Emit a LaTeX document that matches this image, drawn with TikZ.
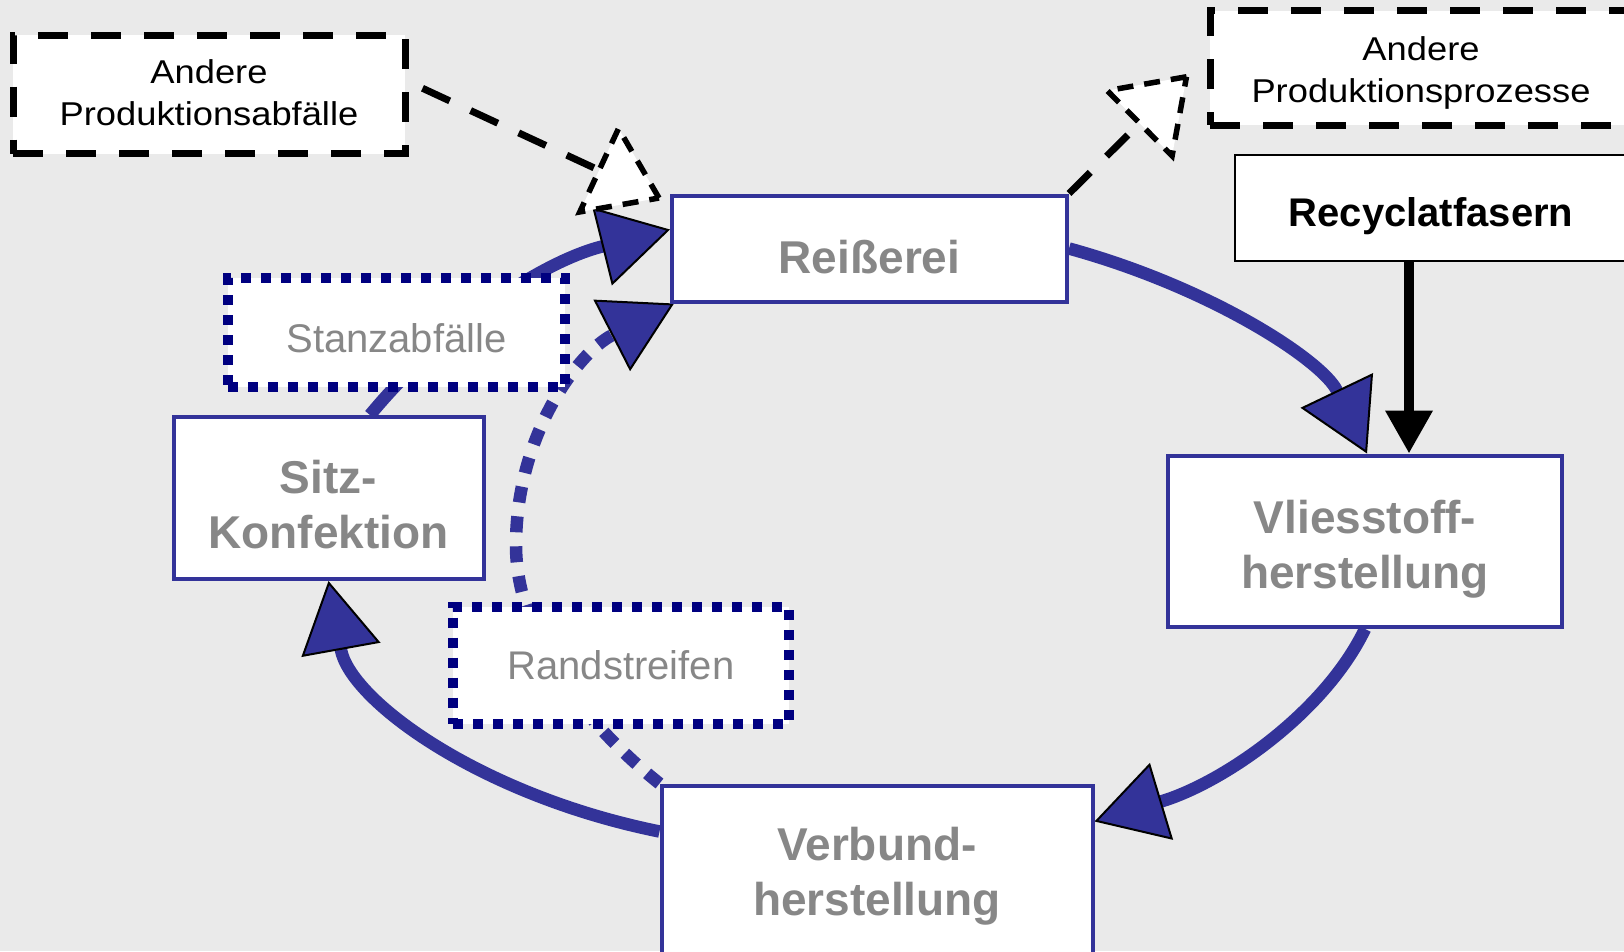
\documentclass[tikz,border=0pt]{standalone}
\usepackage{fontspec}
\setmainfont{Liberation Sans}
\newfontfamily\stretchfam{Liberation Sans}[FakeStretch=1.1]
\usetikzlibrary{arrows.meta,calc}
\definecolor{bgc}{HTML}{EAEAEA}
\definecolor{cblue}{HTML}{333399}
\definecolor{cnavy}{HTML}{000080}
\definecolor{tgray}{HTML}{878787}
\pgfdeclarelayer{bglayer}
\pgfdeclarelayer{connlayer}
\pgfsetlayers{bglayer,connlayer,main}
\pgfdeclarearrow{
  name = DTri,
  parameters = {\the\pgfarrowlength,\the\pgfarrowwidth},
  setup code = {
    \pgfarrowssettipend{0pt}
    \pgfarrowssetlineend{-0.9\pgfarrowlength}
    \pgfarrowssetbackend{-\pgfarrowlength}
    \pgfarrowssavethe\pgfarrowlength
    \pgfarrowssavethe\pgfarrowwidth
  },
  drawing code = {
    \pgfsetdash{{16pt}{11pt}}{0pt}
    \pgfsetlinewidth{5.5pt}
    \pgfsetmiterjoin
    \pgfsetbuttcap
    \pgfpathmoveto{\pgfqpoint{0pt}{0pt}}
    \pgfpathlineto{\pgfqpoint{-\pgfarrowlength}{0.5\pgfarrowwidth}}
    \pgfpathlineto{\pgfqpoint{-\pgfarrowlength}{-0.5\pgfarrowwidth}}
    \pgfpathclose
    \pgfsetfillcolor{white}
    \pgfusepathqfillstroke
  },
  defaults = {length = 66pt, width = 92pt}
}
\newcommand\procfont{\bfseries\fontsize{46}{55}\selectfont}
\newcommand\rpfont{\bfseries\fontsize{40}{48}\selectfont}
\newcommand\wastefont{\fontsize{40}{48}\selectfont}
\newcommand\extfont{\stretchfam\fontsize{33}{42.5}\selectfont}
\newcommand\twoln[3]{\raisebox{#1}[0pt][0pt]{\begin{tabular}[t]{@{}c@{}}#2\\#3\end{tabular}}}
\newcommand\oneln[2]{\raisebox{#1}[0pt][0pt]{#2}}
\tikzset{
  proc/.style={draw=cblue, line width=4pt, fill=white, text=tgray, font=\procfont, inner sep=0pt},
  waste/.style={draw=cnavy, line width=10pt, dash pattern=on 10pt off 10pt, fill=white, text=tgray, font=\wastefont, inner sep=0pt},
  ext/.style={draw=black, line width=7pt, dash pattern=on 30pt off 23pt, fill=white, text=black, font=\extfont, inner sep=0pt},
  src/.style={draw=black, line width=2.5pt, fill=white, text=black, font=\rpfont, inner sep=0pt},
  flow/.style={draw=cblue, line width=12.5pt, -{Triangle[length=70pt, width=80pt, color=black, fill=cblue, line width=2pt]}},
  scrap/.style={flow, dash pattern=on 16pt off 14pt},
  extflow/.style={draw=black, line width=7pt, dash pattern=on 30pt off 23pt, -{DTri}},
  feed/.style={draw=black, line width=10pt, -{Triangle[length=43pt, width=45pt]}},
}
\begin{document}
\begin{tikzpicture}[x=1pt,y=1pt]
\begin{pgfonlayer}{bglayer}
\fill[bgc] (0,0) rectangle (1624,-951);
\end{pgfonlayer}
\useasboundingbox (0,0) rectangle (1624,-951);

% process boxes
\node[proc, minimum width=395pt, minimum height=106pt] (rei) at (869.5,-248.5) {\oneln{-24.5pt}{Reißerei}};
\node[proc, minimum width=394.5pt, minimum height=171.5pt] (vl) at (1365,-541.25) {\twoln{8.25pt}{Vliesstoff-}{herstellung}};
\node[proc, minimum width=431pt, minimum height=171pt] (vb) at (877,-871) {\twoln{11pt}{Verbund-}{herstellung}};
\node[proc, minimum width=310pt, minimum height=162pt] (sk) at (328.5,-498) {\twoln{5pt}{Sitz-}{Konfektion}};

% waste boxes
\node[waste, minimum width=337pt, minimum height=109pt] (sa) at (396.5,-332.5) {\oneln{-19.5pt}{Stanzabfälle}};
\node[waste, minimum width=336pt, minimum height=117pt] (rs) at (621,-665) {\oneln{-14pt}{Randstreifen}};

% external boxes
\node[ext, minimum width=392pt, minimum height=118.5pt] (apa) at (209,-94.25) {\twoln{11.25pt}{Andere}{Produktionsabfälle}};
\node[ext, minimum width=422pt, minimum height=114.5pt] (app) at (1421,-67.75) {\twoln{7.75pt}{Andere}{Produktionsprozesse}};
\node[src, minimum width=392pt, minimum height=106pt] (rp) at (1431,-208) {\oneln{-18pt}{Recyclatfasern}};

\begin{pgfonlayer}{connlayer}
% main cycle
\draw[flow] (rei.east) .. controls (1212.9,-288.1) and (1322.8,-361.2) .. ($(vl.north)+(2,0)$);
\draw[flow] (vl.south) .. controls (1324.7,-712.8) and (1223.4,-782.7) .. ($(vb.north east)+(0,-38)$);
\draw[flow] ($(vb.north west)+(0,-48)$) .. controls (478.9,-795) and (350,-700) .. (sk.south);
\draw[flow] ($(sk.north)+(41.5,0)$) .. controls (440,-330) and (540,-262) .. ($(rei.north west)+(0,-36)$);
% edge strips back to tearing
\coordinate (rsmid) at (516,-545);
\draw[scrap] (vb.north west) .. controls (599,-735.5) and (516,-645) .. (rsmid)
  .. controls (516,-435) and (578.1,-352.6) .. ($(rei.south west)+(4,0)$);
% external flows
\draw[extflow] ($(apa.east)+(14,6)$) -- ($(rei.north west)+(-11,-4.5)$);
\draw[extflow] (rei.north east) -- ($(app.west)+(-20,-9)$);
\draw[feed] ($(rp.south)+(-22,7)$) -- ($(vl.north)+(44,0)$);
\end{pgfonlayer}
\end{tikzpicture}
\end{document}
